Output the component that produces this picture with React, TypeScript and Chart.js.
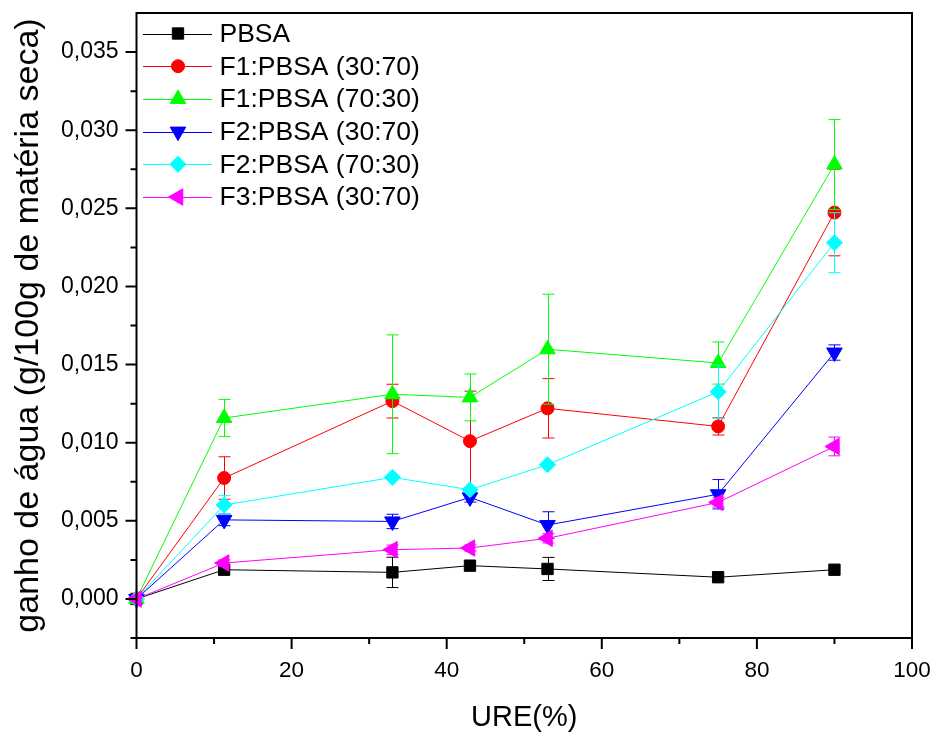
import React, { useEffect, useRef } from "react";
import { Chart, registerables } from "chart.js";
import { drawPoint } from "chart.js/helpers";

Chart.register(...registerables);

// ---------- data ----------
const ure = [0, 11.3, 33, 43, 53, 75, 90];

const seriesLabels = [
  "PBSA",
  "F1:PBSA (30:70)",
  "F1:PBSA (70:30)",
  "F2:PBSA (30:70)",
  "F2:PBSA (70:30)",
  "F3:PBSA (30:70)",
];

const pbsa = [0, 0.00187, 0.0017, 0.00213, 0.00192, 0.00139, 0.00187];
const pbsaErr = [0, 0, 0.00097, 0, 0.00074, 0, 0];

const f1_3070 = [0, 0.00774, 0.01266, 0.0101, 0.0122, 0.01104, 0.02473];
const f1_3070Err = [0, 0.00136, 0.00108, 0.0032, 0.0019, 0.00055, 0.00277];

const f1_7030 = [0, 0.01158, 0.0131, 0.0129, 0.01598, 0.0151, 0.02781];
const f1_7030Err = [0, 0.00119, 0.0038, 0.0015, 0.00352, 0.00135, 0.00288];

const f2_3070 = [0, 0.00506, 0.00496, 0.0065, 0.00473, 0.0067, 0.01577];
const f2_3070Err = [0, 0.00037, 0.00046, 0.0003, 0.00085, 0.00094, 0.00049];

const f2_7030 = [0, 0.00601, 0.00778, 0.00699, 0.00859, 0.01326, 0.0228];
const f2_7030Err = [0, 0.0006, 0, 0, 0, 0.0017, 0.00192];

const f3_3070 = [0, 0.0023, 0.00315, 0.00326, 0.00388, 0.00618, 0.00976];
const f3_3070Err = [0, 0.0002, 0.0003, 0.0002, 0.0003, 0.0003, 0.0006];

const seriesValues = [pbsa, f1_3070, f1_7030, f2_3070, f2_7030, f3_3070];
const seriesErrors = [pbsaErr, f1_3070Err, f1_7030Err, f2_3070Err, f2_7030Err, f3_3070Err];

const xMajorTicks = [0, 20, 40, 60, 80, 100];
const xMinorTicks = [10, 30, 50, 70, 90];
const yMajorTicks = [0, 0.005, 0.01, 0.015, 0.02, 0.025, 0.03, 0.035];
const yTickLabels = ["0,000", "0,005", "0,010", "0,015", "0,020", "0,025", "0,030", "0,035"];
const yMinorTicks = [-0.0025, 0.0025, 0.0075, 0.0125, 0.0175, 0.0225, 0.0275, 0.0325];

// ---------- styles ----------
const colors = ["#000000", "#FF0000", "#00FF00", "#0000FF", "#00FFFF", "#FF00FF"];
const pointStyles = ["rect", "circle", "triangle", "triangle", "rectRot", "triangle"];
const pointRotations = [0, 0, 0, 180, 0, 270];
const pointRadii = [8, 6.5, 9, 9, 8, 9.5];

const FONT = "'Liberation Sans', Arial, Helvetica, sans-serif";

function zeroPad(s: any) {
  s.paddingTop = 0;
  s.paddingBottom = 0;
  s.paddingLeft = 0;
  s.paddingRight = 0;
}

const decorPlugin = {
  id: "decor",
  afterDatasetDraw(chart: any, args: any) {
    const i = args.index;
    const errs = seriesErrors[i];
    const vals = seriesValues[i];
    const xs = chart.scales.x;
    const ys = chart.scales.y;
    const ctx = chart.ctx;
    ctx.save();
    ctx.strokeStyle = colors[i];
    ctx.lineWidth = 1;
    for (let k = 0; k < ure.length; k++) {
      const e = errs[k];
      if (!e) continue;
      const px = Math.round(xs.getPixelForValue(ure[k])) + 0.5;
      const top = ys.getPixelForValue(vals[k] + e);
      const bot = ys.getPixelForValue(vals[k] - e);
      ctx.beginPath();
      ctx.moveTo(px, top);
      ctx.lineTo(px, bot);
      ctx.moveTo(px - 6, top);
      ctx.lineTo(px + 6, top);
      ctx.moveTo(px - 6, bot);
      ctx.lineTo(px + 6, bot);
      ctx.stroke();
    }
    ctx.restore();
  },
  afterDraw(chart: any) {
    const ctx = chart.ctx;
    const a = chart.chartArea;
    const xs = chart.scales.x;
    const ys = chart.scales.y;
    ctx.save();
    // frame
    ctx.strokeStyle = "#000";
    ctx.lineWidth = 2;
    ctx.strokeRect(a.left, a.top, a.right - a.left, a.bottom - a.top);
    // ticks
    ctx.beginPath();
    xMajorTicks.forEach((v) => {
      const p = xs.getPixelForValue(v);
      ctx.moveTo(p, a.bottom);
      ctx.lineTo(p, a.bottom + 11);
    });
    xMinorTicks.forEach((v) => {
      const p = xs.getPixelForValue(v);
      ctx.moveTo(p, a.bottom);
      ctx.lineTo(p, a.bottom + 6);
    });
    yMajorTicks.forEach((v) => {
      const p = ys.getPixelForValue(v);
      ctx.moveTo(a.left, p);
      ctx.lineTo(a.left - 11, p);
    });
    yMinorTicks.forEach((v) => {
      const p = ys.getPixelForValue(v);
      ctx.moveTo(a.left, p);
      ctx.lineTo(a.left - 6, p);
    });
    ctx.stroke();

    // legend
    const lx0 = a.left + 6.5;
    const lx1 = a.left + 75.5;
    const mx = a.left + 41.5;
    const tx = a.left + 83;
    const y0 = a.top + 20.5;
    const dy = 32.7;
    ctx.font = `26.5px ${FONT}`;
    ctx.textBaseline = "middle";
    ctx.textAlign = "left";
    seriesLabels.forEach((lab, i) => {
      const y = y0 + i * dy;
      ctx.strokeStyle = colors[i];
      ctx.lineWidth = 1;
      ctx.beginPath();
      ctx.moveTo(lx0, Math.round(y) + 0.5);
      ctx.lineTo(lx1, Math.round(y) + 0.5);
      ctx.stroke();
      ctx.fillStyle = colors[i];
      drawPoint(ctx, { pointStyle: pointStyles[i], rotation: pointRotations[i], radius: pointRadii[i], borderWidth: 1 }, mx, y);
      ctx.fillStyle = "#000";
      ctx.fillText(lab, tx, y + 1);
    });
    ctx.restore();
  },
};

export default function App() {
  const ref = useRef<HTMLCanvasElement>(null);
  useEffect(() => {
    document.body.style.margin = "0";
    const canvas = ref.current!;
    const n = seriesLabels.length;
    const chart = new Chart(canvas, {
      type: "line",
      data: {
        datasets: seriesLabels.map((lab, i) => ({
          label: lab,
          data: ure.map((x, k) => ({ x, y: seriesValues[i][k] })),
          borderColor: colors[i],
          backgroundColor: colors[i],
          borderWidth: 1,
          pointStyle: pointStyles[i] as any,
          pointRotation: pointRotations[i],
          pointRadius: pointRadii[i],
          pointBorderWidth: 1,
          pointBorderColor: colors[i],
          pointBackgroundColor: colors[i],
          tension: 0,
          clip: false as any,
          order: n - i,
        })),
      },
      options: {
        responsive: false,
        animation: false,
        events: [],
        layout: { padding: { top: 13, right: 23, left: 0, bottom: 0 } },
        plugins: { legend: { display: false }, tooltip: { enabled: false } },
        scales: {
          x: {
            type: "linear",
            min: 0,
            max: 100,
            grid: { display: false, drawTicks: false },
            border: { display: false },
            afterBuildTicks: (s: any) => {
              s.ticks = xMajorTicks.map((v) => ({ value: v }));
            },
            afterFit: (s: any) => {
              s.height = 95;
              zeroPad(s);
            },
            ticks: {
              padding: 19,
              color: "#000",
              maxRotation: 0,
              autoSkip: false,
              font: { family: FONT, size: 22.5 },
              callback: (v: any) => String(v),
            },
            title: {
              display: true,
              text: "URE(%)",
              color: "#000",
              font: { family: FONT, size: 29, lineHeight: 1 },
              padding: { top: 0, bottom: 1 },
            },
          },
          y: {
            type: "linear",
            min: -0.0025,
            max: 0.0375,
            grid: { display: false, drawTicks: false },
            border: { display: false },
            afterBuildTicks: (s: any) => {
              s.ticks = yMajorTicks.map((v) => ({ value: v }));
            },
            afterFit: (s: any) => {
              s.width = 136.5;
              zeroPad(s);
            },
            ticks: {
              padding: 18,
              color: "#000",
              autoSkip: false,
              font: { family: FONT, size: 23 },
              callback: (v: any) => {
                const idx = yMajorTicks.findIndex((t) => Math.abs(t - v) < 1e-9);
                return idx >= 0 ? yTickLabels[idx] : "";
              },
            },
            title: {
              display: true,
              text: "ganho de água (g/100g de matéria seca)",
              color: "#000",
              font: { family: FONT, size: 34, lineHeight: 1 },
              padding: { top: 12, bottom: 0 },
            },
          },
        },
      },
      plugins: [decorPlugin],
    });
    return () => chart.destroy();
  }, []);
  return <canvas ref={ref} width={935} height={733} style={{ display: "block" }} />;
}
